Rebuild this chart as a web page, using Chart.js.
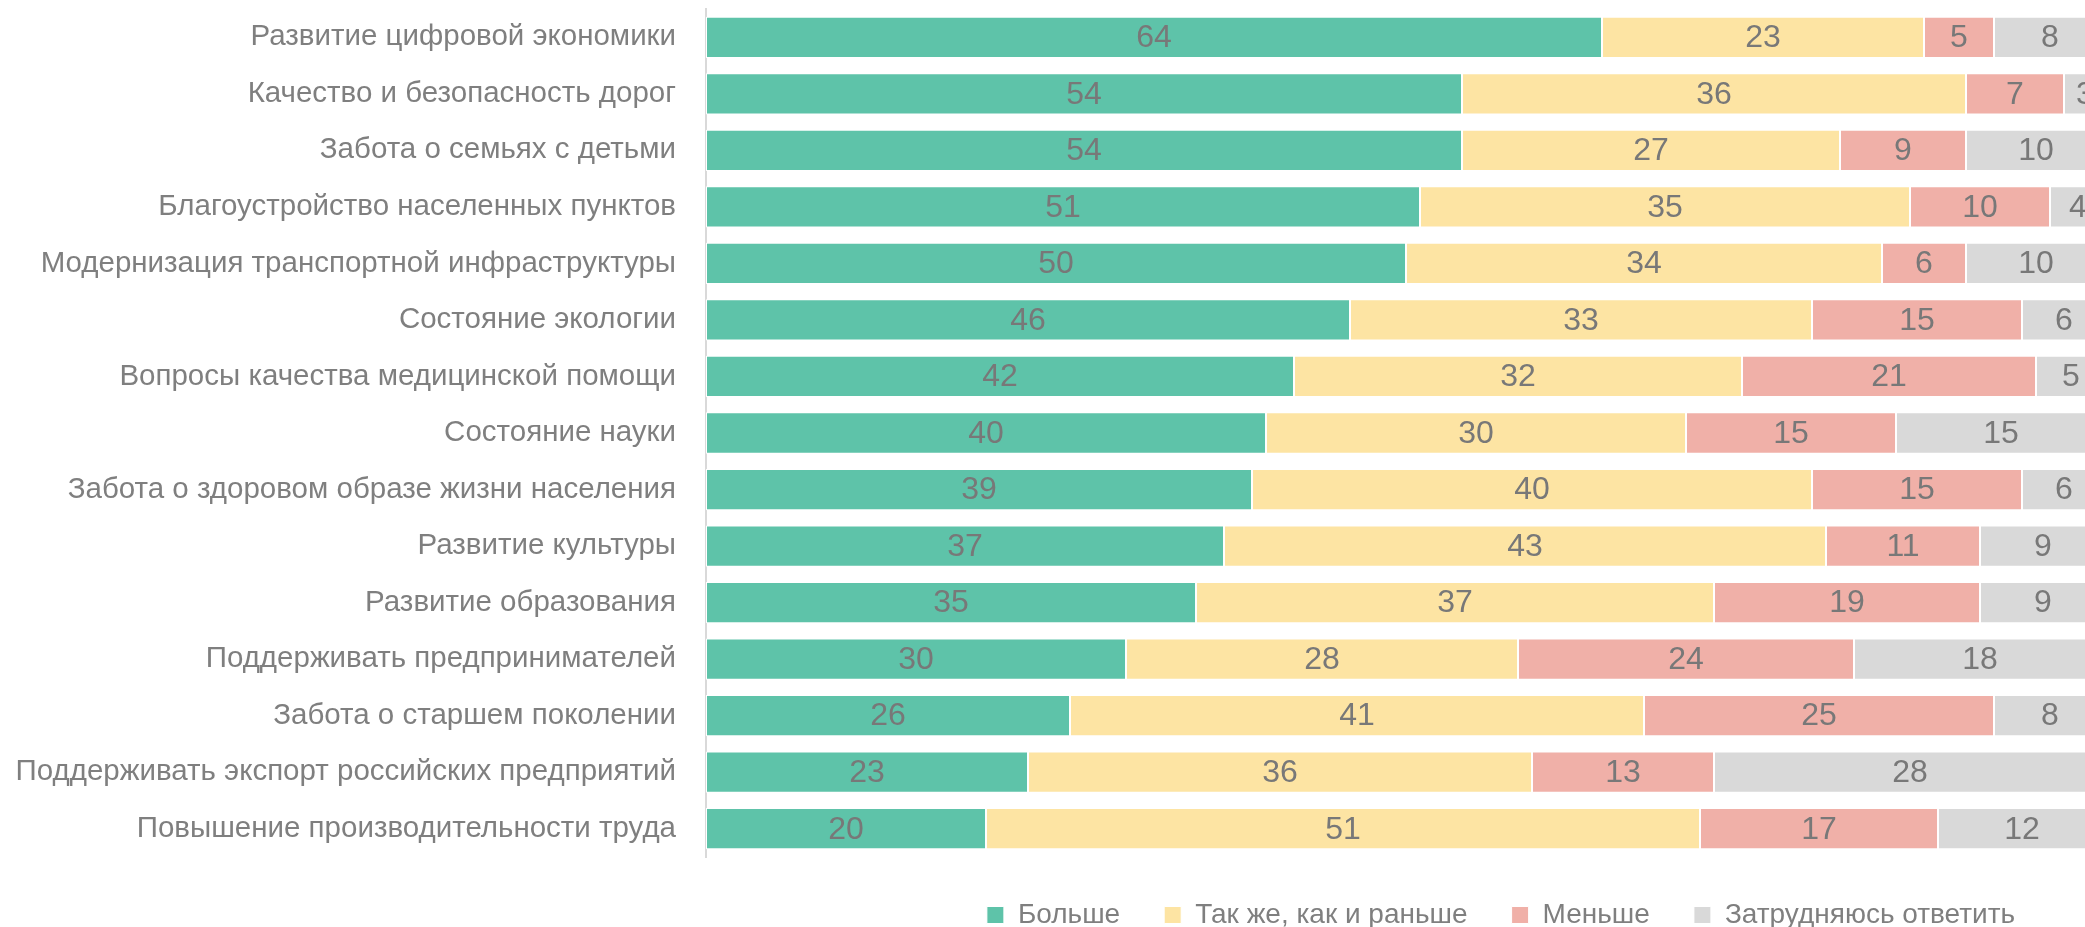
<!DOCTYPE html>
<html>
<head>
<meta charset="utf-8">
<script src="https://cdn.jsdelivr.net/npm/chart.js@4"></script>
<style>
    html, body { margin: 0; padding: 0; background: #fff; overflow: hidden; }
    .chart-c { position: relative; width: 3002px; height: 939px; }
</style>
</head>
<body>
<div class="chart-c"><canvas id="my-chart"></canvas></div>
<script>
// Add JavaScript code here

const categories = [
    'Развитие цифровой экономики',
    'Качество и безопасность дорог',
    'Забота о семьях с детьми',
    'Благоустройство населенных пунктов',
    'Модернизация транспортной инфраструктуры',
    'Состояние экологии',
    'Вопросы качества медицинской помощи',
    'Состояние науки',
    'Забота о здоровом образе жизни населения',
    'Развитие культуры',
    'Развитие образования',
    'Поддерживать предпринимателей',
    'Забота о старшем поколении',
    'Поддерживать экспорт российских предприятий',
    'Повышение производительности труда'
]

const moreData = [64, 54, 54, 51, 50, 46, 42, 40, 39, 37, 35, 30, 26, 23, 20]
const sameData = [23, 36, 27, 35, 34, 33, 32, 30, 40, 43, 37, 28, 41, 36, 51]
const lessData = [5, 7, 9, 10, 6, 15, 21, 15, 15, 11, 19, 24, 25, 13, 17]
const hardData = [8, 3, 10, 4, 10, 6, 5, 15, 6, 9, 9, 18, 8, 28, 12]

const seriesNames = ['Больше', 'Так же, как и раньше', 'Меньше', 'Затрудняюсь ответить']

const textGrey = '#7f7f7f'
const fontFamily = '"Liberation Sans", Arial, sans-serif'

// values written in the middle of every segment
const barValues = {
    id: 'barValues',
    afterDatasetsDraw(chart) {
        const ctx = chart.ctx
        ctx.save()
        ctx.font = '32px ' + fontFamily
        ctx.fillStyle = '#787878'
        ctx.textAlign = 'center'
        ctx.textBaseline = 'middle'
        chart.data.datasets.forEach((ds, i) => {
            chart.getDatasetMeta(i).data.forEach((bar, j) => {
                const x = (bar.x + bar.base) / 2
                ctx.fillText(ds.data[j], x, bar.y + 1)
            })
        })
        ctx.restore()
    }
}

const makeSet = (label, data, color) => ({
    label: label,
    data: data,
    backgroundColor: color,
    borderColor: '#ffffff',
    borderWidth: 1,
    borderSkipped: false,
    barPercentage: 0.73,
    categoryPercentage: 1
})

const fChartCanva = document.getElementById('my-chart')

const fChart = new Chart(fChartCanva, {
    type: 'bar',
    data: {
        labels: categories,
        datasets: [
            makeSet(seriesNames[0], moreData, '#5ec3a9'),
            makeSet(seriesNames[1], sameData, '#fde4a3'),
            makeSet(seriesNames[2], lessData, '#f0b0a8'),
            makeSet(seriesNames[3], hardData, '#d9d9d9')
        ]
    },
    options: {
        indexAxis: 'y',
        responsive: true,
        maintainAspectRatio: false,
        animation: false,
        layout: {
            padding: { top: 9, right: 0, bottom: 0, left: 0 }
        },
        scales: {
            x: {
                stacked: true,
                display: false,
                min: 0,
                // the plot runs on past the right edge of the window
                max: 164
            },
            y: {
                stacked: true,
                grid: { display: false, drawTicks: false },
                border: { display: true, color: '#d9d9d9', width: 2 },
                ticks: {
                    color: textGrey,
                    padding: 30,
                    font: { family: fontFamily, size: 29.5 }
                },
                afterFit(scale) {
                    scale.width = 706
                    scale.paddingTop = 0
                    scale.paddingBottom = 0
                }
            }
        },
        plugins: {
            legend: {
                position: 'bottom',
                labels: {
                    color: textGrey,
                    boxWidth: 17,
                    boxHeight: 17,
                    padding: 44,
                    font: { family: fontFamily, size: 28 }
                }
            },
            tooltip: { enabled: false }
        }
    },
    plugins: [barValues]
});
</script>
</body>
</html>
